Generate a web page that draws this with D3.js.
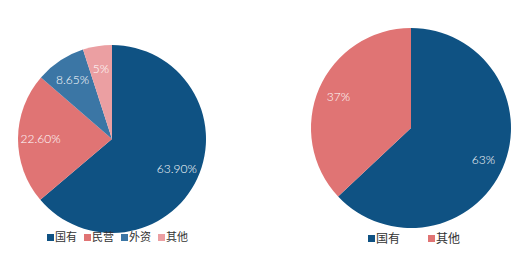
<!DOCTYPE html>
<html>
<head>
<meta charset="utf-8">
<script src="https://cdn.jsdelivr.net/npm/d3@7"></script>
<style>
  body { margin: 0; background: #fff; }
  .lbl { font-family: Lato, "Open Sans", sans-serif; font-size: 12px; font-weight: 300; fill: #fff; }
  .leg { font-family: "Noto Sans CJK SC", sans-serif; fill: #333; }
</style>
</head>
<body>
<svg id="chart" width="528" height="260"></svg>
<script>
// Données du graphique de gauche
const leftNames = ['国有', '民营', '外资', '其他']
const leftValues = [63.90, 22.60, 8.65, 5]
const leftLabels = ['63.90%', '22.60%', '8.65%', '5%']
const leftColors = ['#0f5283', '#e07474', '#3b76a5', '#eb9fa2']

// Données du graphique de droite
const rightNames = ['国有', '其他']
const rightValues = [63, 37]
const rightLabels = ['63%', '37%']
const rightColors = ['#0f5283', '#e07474']

const svg = d3.select('#chart')

/**
 * Dessine un camembert avec ses étiquettes
 */
function drawPie(values, labels, colors, cx, cy, r, labelRatio) {
  const pie = d3.pie().sort(null).value(d => d)
  const arc = d3.arc().innerRadius(0).outerRadius(r)
  const labelArc = d3.arc().innerRadius(r * labelRatio).outerRadius(r * labelRatio)

  const g = svg.append('g').attr('transform', 'translate(' + cx + ',' + cy + ')')
  const arcs = pie(values)

  g.selectAll('path')
    .data(arcs)
    .enter()
    .append('path')
    .attr('d', arc)
    .attr('fill', (d, i) => colors[i])

  g.selectAll('text')
    .data(arcs)
    .enter()
    .append('text')
    .attr('class', 'lbl')
    .attr('text-anchor', 'middle')
    .attr('dy', '0.35em')
    .attr('transform', d => 'translate(' + labelArc.centroid(d) + ')')
    .text((d, i) => labels[i])
}

/**
 * Dessine la légende
 */
function drawLegend(names, colors, x, y, step, fontSize) {
  const g = svg.append('g').attr('transform', 'translate(' + x + ',' + y + ')')
  const items = g.selectAll('g')
    .data(names)
    .enter()
    .append('g')
    .attr('transform', (d, i) => 'translate(' + (i * step) + ',0)')
  items.append('rect')
    .attr('x', 0).attr('y', -3.5)
    .attr('width', 7).attr('height', 7)
    .attr('fill', (d, i) => colors[i])
  items.append('text')
    .attr('class', 'leg')
    .attr('x', 8)
    .attr('dy', '0.36em')
    .style('font-size', fontSize + 'px')
    .text(d => d)
}

drawPie(leftValues, leftLabels, leftColors, 112, 139, 94, 0.76)
drawPie(rightValues, rightLabels, rightColors, 411, 128, 100, 0.79)

drawLegend(leftNames, leftColors, 47, 237.5, 37, 11)
drawLegend(rightNames, rightColors, 368, 238.5, 60, 12)
</script>
</body>
</html>
